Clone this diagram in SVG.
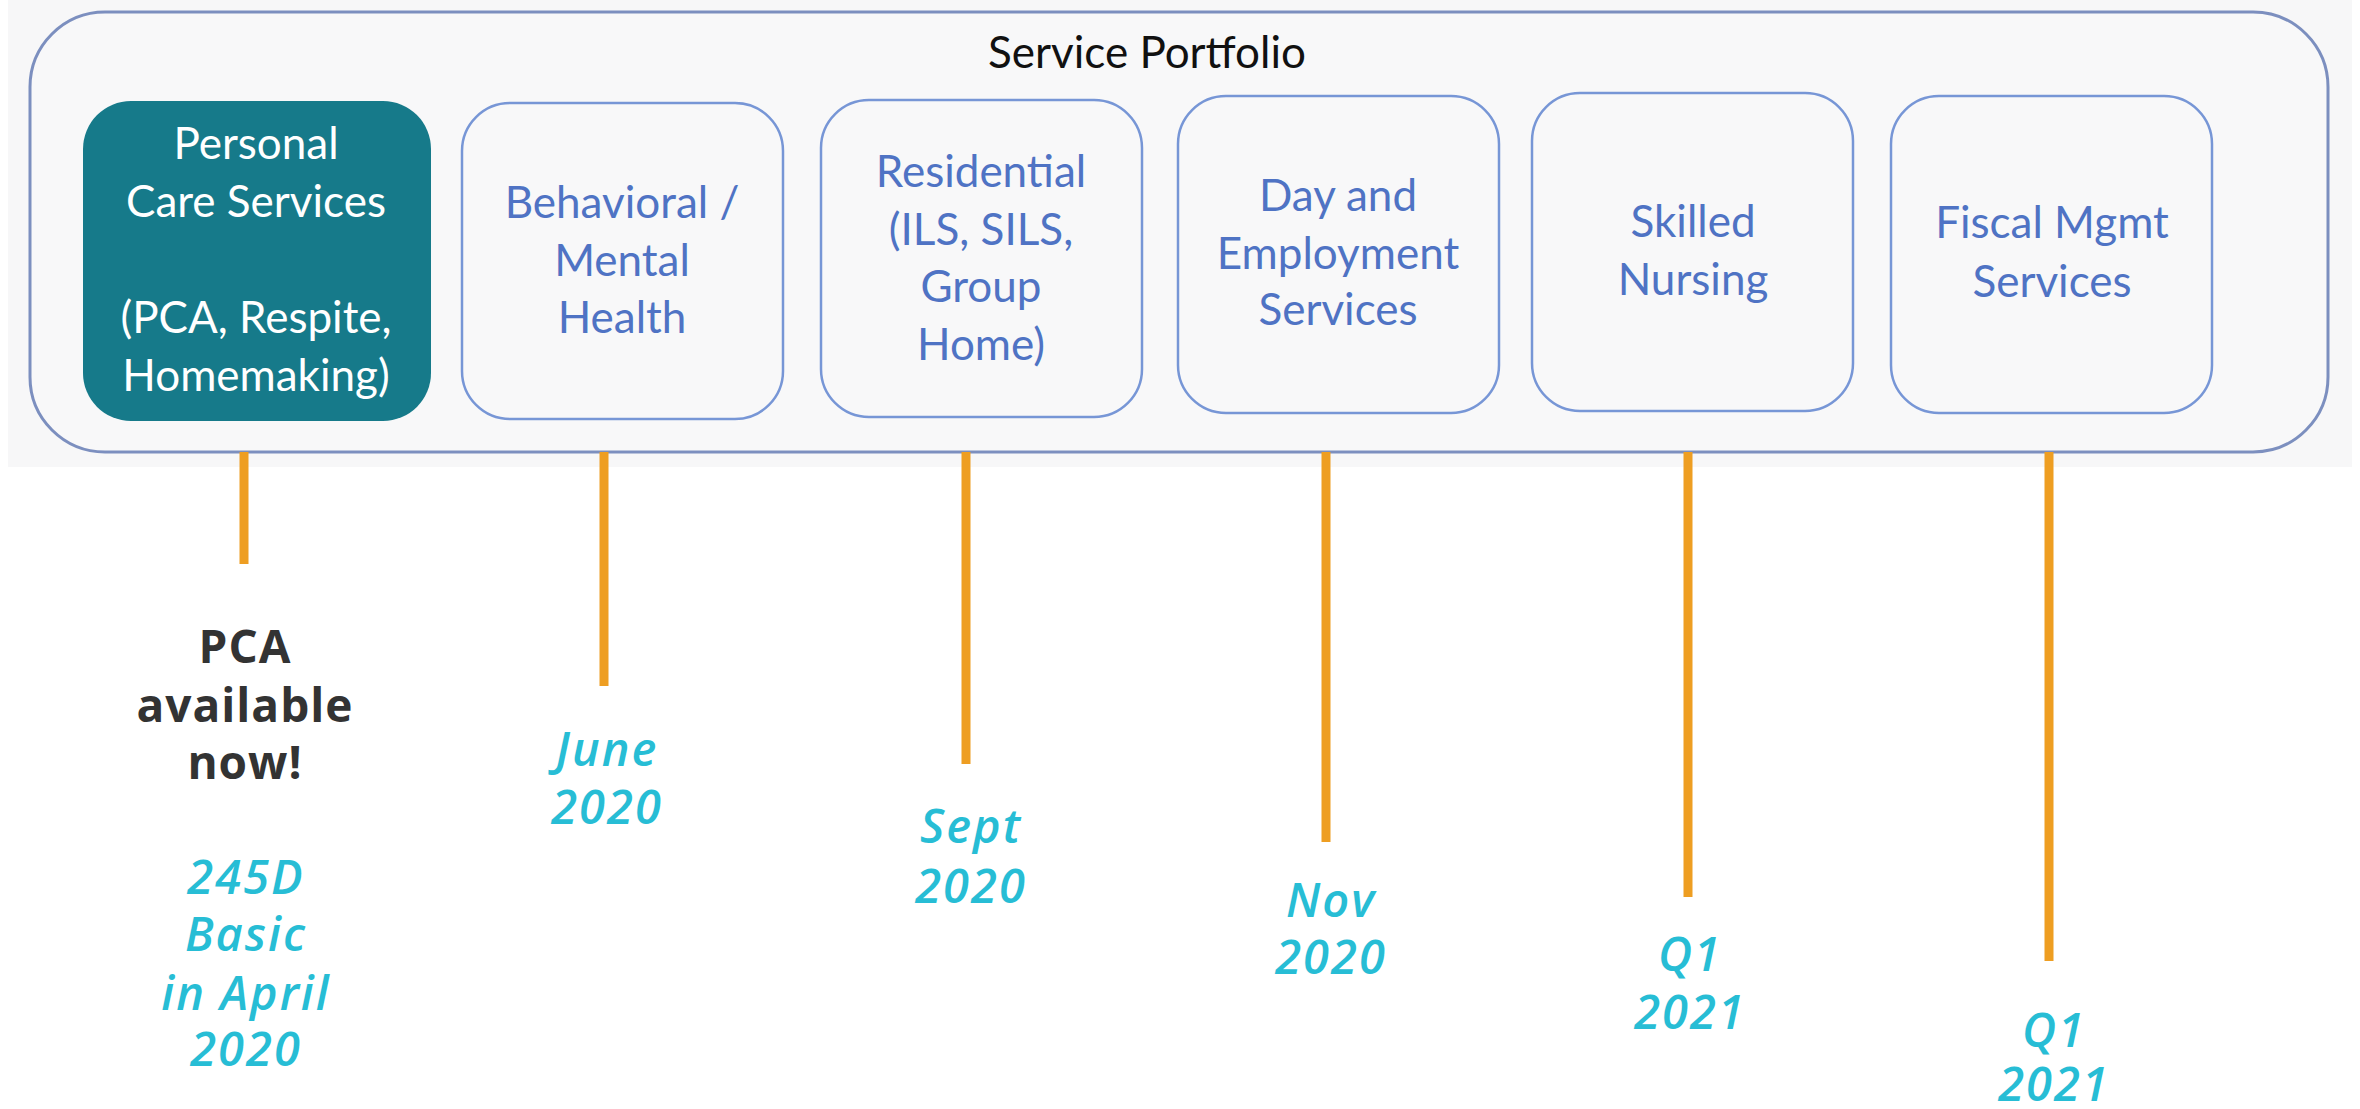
<svg xmlns="http://www.w3.org/2000/svg" width="2360" height="1109" viewBox="0 0 2360 1109">
<style>
.bg{fill:#ffffff}
.panel{fill:#f7f7f8}
.outer{fill:#f8f8f9;stroke:#7c8fbf;stroke-width:3}
.box{fill:#f8f8f9;stroke:#7796d6;stroke-width:2.5}
.boxon{fill:#167a8a}
.title{font-family:Lato,"Liberation Sans",sans-serif;font-size:44px;fill:#111111;text-anchor:middle}
.lbl{font-family:Lato,"Liberation Sans",sans-serif;font-size:44px;fill:#4f73c4;text-anchor:middle}
.lblon{font-family:Lato,"Liberation Sans",sans-serif;font-size:44px;fill:#ffffff;text-anchor:middle}
.now{font-family:"Open Sans","Liberation Sans",sans-serif;font-weight:700;font-size:46px;letter-spacing:1px;fill:#333333;text-anchor:middle}
.date{font-family:"Open Sans","Liberation Sans",sans-serif;font-weight:600;font-style:italic;font-size:47px;letter-spacing:2px;fill:#27bdd5;text-anchor:middle}
.tick{stroke:#ee9e22;stroke-width:9;fill:none}
</style>
<rect class="bg" x="0" y="0" width="2360" height="1109"/>
<rect class="panel" x="8" y="0" width="2344" height="467"/>
<g id="portfolio">
<rect class="outer" x="30" y="12" width="2298" height="440" rx="75" ry="75"/>
<text class="title" x="1147" y="68">Service Portfolio</text>
</g>
<g id="node-pca">
<rect class="boxon" x="83" y="101" width="348" height="320" rx="48" ry="48"/>
<text class="lblon" x="256" y="159">Personal</text>
<text class="lblon" x="256" y="217">Care Services</text>
<text class="lblon" x="256" y="333">(PCA, Respite,</text>
<text class="lblon" x="256" y="391">Homemaking)</text>
</g>
<g id="node-behavioral">
<rect class="box" x="462" y="103" width="321" height="316" rx="48" ry="48"/>
<text class="lbl" x="622" y="218">Behavioral /</text>
<text class="lbl" x="622" y="276">Mental</text>
<text class="lbl" x="622" y="333">Health</text>
</g>
<g id="node-residential">
<rect class="box" x="821" y="100" width="321" height="317" rx="48" ry="48"/>
<text class="lbl" x="981" y="187">Residential</text>
<text class="lbl" x="981" y="245">(ILS, SILS,</text>
<text class="lbl" x="981" y="302">Group</text>
<text class="lbl" x="981" y="360">Home)</text>
</g>
<g id="node-day">
<rect class="box" x="1178" y="96" width="321" height="317" rx="48" ry="48"/>
<text class="lbl" x="1338" y="211">Day and</text>
<text class="lbl" x="1338" y="269">Employment</text>
<text class="lbl" x="1338" y="325">Services</text>
</g>
<g id="node-skilled">
<rect class="box" x="1532" y="93" width="321" height="318" rx="48" ry="48"/>
<text class="lbl" x="1693" y="237">Skilled</text>
<text class="lbl" x="1693" y="295">Nursing</text>
</g>
<g id="node-fiscal">
<rect class="box" x="1891" y="96" width="321" height="317" rx="48" ry="48"/>
<text class="lbl" x="2052" y="238">Fiscal Mgmt</text>
<text class="lbl" x="2052" y="297">Services</text>
</g>
<g id="connectors">
<line class="tick" x1="244" y1="452" x2="244" y2="564"/>
<line class="tick" x1="604" y1="452" x2="604" y2="686"/>
<line class="tick" x1="966" y1="452" x2="966" y2="764"/>
<line class="tick" x1="1326" y1="452" x2="1326" y2="842"/>
<line class="tick" x1="1688" y1="452" x2="1688" y2="897"/>
<line class="tick" x1="2049" y1="452" x2="2049" y2="961"/>
</g>
<g id="label-pca">
<text class="now" x="245" y="663">PCA</text>
<text class="now" x="245" y="722">available</text>
<text class="now" x="245" y="779">now!</text>
<text class="date" x="246" y="894">245D</text>
<text class="date" x="246" y="951">Basic</text>
<text class="date" x="246" y="1010">in April</text>
<text class="date" x="246" y="1066">2020</text>
</g>
<g id="label-behavioral">
<text class="date" x="607" y="766">June</text>
<text class="date" x="607" y="824">2020</text>
</g>
<g id="label-residential">
<text class="date" x="971" y="843">Sept</text>
<text class="date" x="971" y="903">2020</text>
</g>
<g id="label-day">
<text class="date" x="1331" y="917">Nov</text>
<text class="date" x="1331" y="974">2020</text>
</g>
<g id="label-skilled">
<text class="date" x="1690" y="971">Q1</text>
<text class="date" x="1690" y="1029">2021</text>
</g>
<g id="label-fiscal">
<text class="date" x="2054" y="1047">Q1</text>
<text class="date" x="2054" y="1101">2021</text>
</g>
</svg>
